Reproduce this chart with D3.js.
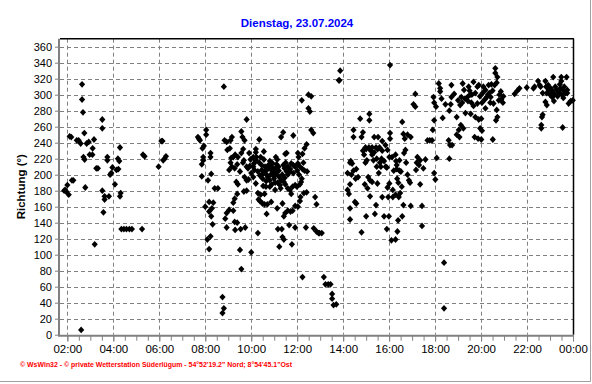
<!DOCTYPE html>
<html><head><meta charset="utf-8">
<script src="https://cdn.jsdelivr.net/npm/d3@7"></script>
<style>html,body{margin:0;padding:0;background:#fff;}svg{display:block;}</style>
</head><body>
<svg id="chart" width="592" height="384"></svg>
<script>
const title = "Dienstag, 23.07.2024";
const yLabel = "Richtung (°)";
const footer = "© WsWin32 - © private Wetterstation Süderlügum - 54°52'19.2\" Nord; 8°54'45.1\"Ost";
const yTicks = [0,20,40,60,80,100,120,140,160,180,200,220,240,260,280,300,320,340,360];
const xTicks = [2,4,6,8,10,12,14,16,18,20,22,24];
const xTickLabels = ["02:00","04:00","06:00","08:00","10:00","12:00","14:00","16:00","18:00","20:00","22:00","00:00"];

// [hour of day, wind direction in degrees]
const earlyMorning = [[1.86,180],[1.9,181],[1.95,179],[2.0,187],[2.06,175],[2.2,193],[2.26,193],[2.1,248],[2.17,247],[2.41,243],[2.49,243],[2.58,239],[2.64,313],[2.64,294],[2.68,278],[2.74,252],[2.7,222],[2.75,219],[2.78,184],[2.84,239],[2.93,241],[2.97,225],[3.09,225],[3.1,233],[3.16,244],[3.19,113],[3.26,208],[3.33,208],[2.6,6],[3.52,269],[3.52,258],[3.52,180],[3.62,173],[3.62,169],[3.57,153],[3.74,222],[3.74,218],[3.81,173],[3.86,200],[3.91,202],[3.96,209],[4.07,188],[4.14,206],[4.22,207],[4.2,220],[4.26,217],[4.29,234],[4.32,177],[4.29,173],[4.35,132],[4.46,132],[4.57,132],[4.7,132],[4.81,132],[5.25,132],[5.29,225],[5.36,223],[5.97,210],[6.09,242],[6.14,242],[6.17,218],[6.23,220],[6.29,223]];
const morning = [[7.68,247],[7.77,243],[7.72,245],[8.04,256],[8.04,250],[7.94,236],[7.88,233],[7.91,222],[7.91,218],[7.85,213],[7.85,198],[8.12,193],[8.23,227],[8.23,222],[8.26,201],[8.0,160],[8.41,183],[8.55,183],[8.17,166],[8.35,165],[8.17,154],[8.29,158],[8.26,148],[8.32,138],[8.23,123],[8.09,119],[8.17,107],[8.81,310],[8.75,47],[8.81,33],[8.75,27],[8.84,243],[8.93,241],[9.16,247],[9.1,243],[8.96,231],[9.07,233],[9.22,222],[9.13,221],[9.3,225],[9.42,222],[9.1,215],[9.16,210],[9.04,206],[9.28,208],[9.39,213],[9.51,204],[9.35,191],[9.42,188],[9.39,176],[9.28,170],[9.22,165],[9.04,156],[8.93,152],[8.87,145],[8.93,134],[9.22,155],[9.28,141],[9.39,140],[9.3,131],[9.54,132],[9.74,134],[9.51,106],[9.57,82],[9.8,269],[9.57,254],[9.62,247],[9.71,243],[9.57,227],[9.65,232],[9.68,218],[9.64,215],[9.8,210],[9.86,208],[9.8,193],[9.71,197],[9.88,194],[9.68,179],[9.8,180],[9.91,227],[9.97,219]];
const midday = [[10.0,103],[10.29,127],[10.35,244],[10.2,232],[10.2,228],[10.09,222],[10.23,222],[9.94,211],[10.09,210],[10.14,206],[10.29,204],[10.0,202],[10.09,197],[10.2,189],[10.29,177],[10.41,175],[10.58,176],[10.32,169],[10.38,167],[10.49,164],[10.58,163],[10.7,163],[10.67,151],[10.55,229],[10.41,222],[10.55,219],[10.46,206],[10.58,204],[10.72,207],[10.5,201],[10.67,200],[10.72,197],[10.52,186],[10.64,185],[10.81,185],[10.81,217],[10.93,214],[10.87,210],[10.96,206],[11.01,202],[11.07,222],[11.13,219],[11.1,213],[11.19,210],[10.99,195],[11.04,190],[10.9,188],[11.04,181],[10.87,166],[11.13,158],[11.36,164],[11.22,197],[11.3,193],[11.25,187],[11.28,183],[11.39,253],[11.3,247],[11.48,226],[11.54,227],[11.45,208],[11.54,204],[11.59,200],[11.42,191],[11.48,188],[11.59,183],[11.42,148],[11.48,152],[11.59,155],[11.71,154],[11.8,155],[11.65,137],[11.16,132],[11.33,132],[11.36,122],[11.42,119],[11.22,110],[11.77,113],[11.83,249],[11.74,214],[11.83,212],[11.91,210],[11.68,204],[11.83,202],[11.68,181],[11.74,176],[11.8,185],[11.91,187],[11.99,185],[11.91,161],[12.03,160],[11.91,134],[12.38,134],[12.03,227],[12.06,222],[12.03,214],[12.12,210],[12.23,207],[12.12,188],[12.17,191],[12.14,172],[12.12,167],[12.23,226],[12.23,72],[12.2,293],[12.32,233],[12.41,238],[12.32,205],[12.43,204],[12.29,177],[12.41,178],[12.49,300],[12.61,298],[12.49,283],[12.55,279],[12.61,256],[12.7,252],[12.78,172],[12.84,163],[12.72,133],[12.84,129],[12.93,127],[12.97,127],[13.07,127],[13.16,72],[13.23,63],[13.35,63],[13.45,63],[13.52,51],[13.52,45],[13.58,37],[13.7,38],[13.87,330],[13.81,318],[13.84,318],
  [10.45,212],[10.6,210],[10.75,212],[10.9,205],[11.05,208],[11.2,205],[11.35,200],[10.5,195],[10.65,192],[10.8,193],[11.0,198],[11.15,190],[11.4,212],[11.5,215],[11.6,210],[11.7,207],[10.35,215],[10.2,218],[10.12,214],[12.0,205],[12.08,200],[12.2,195],[12.27,215],[10.38,199],[10.85,200],[11.1,201],[11.45,196]];
const afternoon = [[16.04,337],[14.74,270],[15.14,276],[15.14,268],[14.45,256],[14.45,247],[14.86,253],[14.8,247],[15.35,247],[15.52,247],[15.7,242],[16.04,252],[16.04,245],[16.57,266],[16.62,251],[16.68,245],[16.8,250],[16.94,247],[14.97,234],[15.12,234],[15.26,234],[15.43,234],[15.58,234],[14.86,230],[14.91,225],[15.03,218],[14.97,215],[15.84,237],[15.93,231],[15.26,225],[15.32,218],[15.7,230],[15.67,220],[16.01,222],[16.13,222],[14.33,217],[14.39,214],[14.57,207],[14.19,202],[14.36,200],[14.3,188],[14.54,195],[14.65,197],[14.19,181],[14.25,176],[15.09,197],[15.17,193],[15.26,191],[14.94,188],[15.06,183],[15.17,173],[15.46,210],[15.64,210],[15.49,189],[15.55,202],[15.9,209],[15.46,220],[15.78,217],[15.93,184],[16.01,189],[16.16,181],[16.28,175],[16.42,172],[16.48,177],[16.33,212],[16.33,207],[16.45,205],[16.51,204],[16.28,225],[16.45,218],[16.3,217],[16.71,231],[16.65,227],[16.74,215],[16.8,200],[16.86,193],[16.91,190],[17.23,222],[17.35,218],[17.58,219],[17.17,206],[17.49,208],[17.35,188],[17.43,161],[17.43,136],[16.16,172],[14.3,158],[14.3,144],[14.57,164],[14.51,166],[14.8,128],[15.0,148],[15.38,151],[15.43,162],[15.7,172],[15.96,172],[15.78,148],[15.99,148],[15.9,132],[16.1,118],[16.28,119],[16.36,129],[16.39,143],[16.57,148],[16.62,162],[16.94,161],[17.67,243],[17.77,243],[17.87,243],[17.96,202],[18.01,194],[18.07,221],[17.9,256],[17.96,268],[18.16,314],[18.22,308],[18.22,304],[17.93,297],[17.96,290],[18.04,285],[18.28,295],[18.45,288],[18.33,271],[17.14,301],[17.06,288],[17.14,285],[18.39,90],[18.39,33],
  [15.0,232],[15.2,230],[15.35,228],[15.5,232],[14.3,215],[14.45,205],[15.6,215],[15.85,210],[16.2,205],[16.35,195],[16.4,190],[16.55,185],[17.2,215],[17.3,212]];
const evening = [[18.62,220],[18.59,243],[18.65,237],[18.74,237],[18.94,250],[19.06,247],[19.03,256],[19.12,262],[19.23,258],[18.94,272],[18.68,288],[18.71,297],[18.83,301],[18.71,312],[18.62,280],[19.09,287],[19.14,297],[19.26,306],[19.2,314],[19.32,277],[19.46,310],[19.52,300],[19.41,297],[19.43,292],[19.58,290],[19.67,286],[19.55,276],[19.67,316],[19.75,302],[19.84,310],[19.9,312],[19.84,289],[19.75,272],[19.9,269],[20.01,270],[19.72,247],[19.87,245],[20.01,244],[19.96,258],[20.04,255],[20.07,302],[20.19,306],[20.25,297],[20.16,294],[20.04,290],[20.19,283],[20.33,312],[20.45,313],[20.59,312],[20.68,315],[20.62,333],[20.62,327],[20.71,322],[20.36,302],[20.42,297],[20.54,289],[20.68,281],[20.71,272],[20.65,268],[20.77,293],[20.88,294],[20.97,298],[20.86,304],[20.51,244],[21.46,301],[21.58,305],[21.67,308],[21.99,309],[22.28,308],[22.33,310],[22.48,317],[22.59,310],[22.55,312],[22.68,302],[22.8,291],[22.86,287],[22.68,275],[22.65,272],[22.62,262],[22.62,258],[22.8,317],[22.83,310],[22.94,306],[22.86,302],[23.0,300],[23.09,297],[23.14,302],[23.14,322],[23.17,292],[23.23,310],[23.29,306],[23.38,302],[23.43,313],[23.49,322],[23.49,317],[23.58,306],[23.67,302],[23.58,296],[23.72,322],[23.75,306],[23.75,302],[23.55,259],[23.81,289],[23.9,292],[23.99,293],
  [19.3,295],[19.5,305],[19.6,300],[19.95,298],[20.3,300],[20.5,305],[20.8,300],[20.95,290],[19.0,293],[19.18,290],[20.1,310],[20.4,290],[23.1,305],[23.2,300],[23.33,298],[23.4,303],[23.62,310],[23.03,308],[22.92,312],[23.52,300],[23.45,308]];

const data = [].concat(earlyMorning, morning, midday, afternoon, evening);

const svg = d3.select("#chart");
const pL = 60, pR = 573, pT = 38.7, pB = 334.7;
const x = d3.scaleLinear().domain([1.68, 24]).range([pL, pR]);
const y = d3.scaleLinear().domain([0, 370]).range([pB, pT]);
const font = "Arial, 'Liberation Sans', sans-serif";

// outer frame (right/bottom light grey)
svg.append("line").attr("x1",590.5).attr("x2",590.5).attr("y1",0).attr("y2",381.5).attr("stroke","#a0a0a0");
svg.append("line").attr("x1",0).attr("x2",590.5).attr("y1",381.5).attr("y2",381.5).attr("stroke","#a0a0a0");

// title
svg.append("text").attr("x",297).attr("y",27).attr("text-anchor","middle")
  .attr("font-family",font).attr("font-size","11.5px").attr("font-weight","bold").attr("fill","#0000ff").text(title);

// grid
const grid = svg.append("g").attr("stroke","#808080").attr("stroke-dasharray","4,3").attr("stroke-width",1);
yTicks.filter(v=>v>0).forEach(v=>{
  grid.append("line").attr("x1",pL).attr("x2",pR).attr("y1",Math.round(y(v))+0.5).attr("y2",Math.round(y(v))+0.5);
});
xTicks.filter(v=>v<24).forEach(v=>{
  grid.append("line").attr("y1",pT).attr("y2",pB).attr("x1",Math.round(x(v))+0.5).attr("x2",Math.round(x(v))+0.5);
});

// frame top/right
svg.append("line").attr("x1",pL).attr("x2",pR+1).attr("y1",pT).attr("y2",pT).attr("stroke","#000").attr("stroke-width",1.5);
svg.append("line").attr("x1",pR+0.5).attr("x2",pR+0.5).attr("y1",pT).attr("y2",pB).attr("stroke","#000").attr("stroke-width",1.5);

// y axis
const yAxis = d3.axisLeft(y).tickValues(yTicks).tickSize(4).tickPadding(3).tickFormat(d3.format("d"));
const gy = svg.append("g").attr("transform",`translate(${pL-1},0)`).call(yAxis);
gy.select(".domain").attr("stroke","#808080").attr("stroke-width",2).attr("d",`M0,${pT}V${pB+1}`);
gy.selectAll(".tick line").attr("stroke","#808080");
gy.selectAll(".tick text").attr("font-family",font).attr("font-size","11px").attr("fill","#000");

// x axis (minor ticks every 30 min, labels every 2 h)
const minor = d3.range(2, 24.01, 0.5);
const xAxisMinor = d3.axisBottom(x).tickValues(minor).tickSize(5).tickFormat("");
const gxm = svg.append("g").attr("transform",`translate(0,${pB+1})`).call(xAxisMinor);
gxm.select(".domain").attr("stroke","#808080").attr("stroke-width",2).attr("d",`M${pL-2},0H${pR+1}`);
gxm.selectAll(".tick line").attr("stroke","#808080");
const xAxis = d3.axisBottom(x).tickValues(xTicks).tickSize(6).tickPadding(3).tickFormat((d,i)=>xTickLabels[i]);
const gx = svg.append("g").attr("transform",`translate(0,${pB+1})`).call(xAxis);
gx.select(".domain").remove();
gx.selectAll(".tick line").attr("stroke","#808080");
gx.selectAll(".tick text").attr("font-family",font).attr("font-size","11.5px").attr("fill","#000");

// y label
svg.append("text").attr("transform",`translate(25,${(pT+pB)/2}) rotate(-90)`).attr("text-anchor","middle")
  .attr("font-family",font).attr("font-size","11.5px").attr("font-weight","bold").attr("fill","#000").text(yLabel);

// markers
const diamond = "M0,-3.4L3.1,0L0,3.4L-3.1,0Z";
svg.append("g").selectAll("path").data(data).join("path")
  .attr("transform",d=>`translate(${x(d[0])},${y(d[1])})`)
  .attr("d",diamond).attr("fill","#000");

// footer
svg.append("text").attr("x",20).attr("y",367).attr("font-family",font).attr("font-size","7px").attr("font-weight","bold")
  .attr("fill","#ff0000").attr("textLength",272).attr("lengthAdjust","spacingAndGlyphs").text(footer);
</script>
</body></html>
